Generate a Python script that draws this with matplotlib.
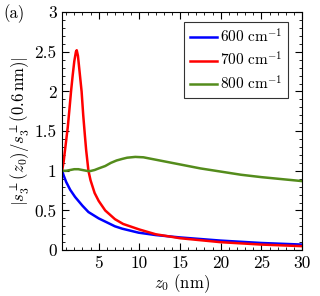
import matplotlib
matplotlib.use('Agg')
import matplotlib.pyplot as plt
from matplotlib.ticker import MultipleLocator

plt.rcParams['font.family'] = 'serif'
plt.rcParams['font.serif'] = ['cmr10']
plt.rcParams['mathtext.fontset'] = 'cm'
plt.rcParams['axes.unicode_minus'] = False

# data
z_600 = [0.5, 0.7, 1.0, 1.5, 2.1, 3.0, 3.74, 5.0, 5.8, 7.0, 7.9, 9.9, 12, 15, 20, 25, 30]
s_600 = [1.0, 0.94, 0.86, 0.76, 0.67, 0.56, 0.48, 0.40, 0.36, 0.30, 0.27, 0.22, 0.19, 0.16, 0.12, 0.09, 0.07]

z_700 = [0.5, 0.7, 0.86, 1.0, 1.2, 1.4, 1.6, 1.8, 2.0, 2.2, 2.3, 2.45, 2.6, 2.8, 2.9, 3.1, 3.3,
         3.46, 3.74, 4.0, 4.5, 5.0, 5.8, 7, 8, 10, 12, 15, 20, 25, 30]
s_700 = [1.0, 1.12, 1.26, 1.38, 1.55, 1.77, 2.0, 2.2, 2.38, 2.5, 2.52, 2.45, 2.3, 2.1, 2.0, 1.7, 1.45,
         1.26, 1.0, 0.88, 0.72, 0.62, 0.5, 0.39, 0.33, 0.26, 0.2, 0.15, 0.1, 0.07, 0.05]

z_800 = [0.5, 1, 1.5, 2, 2.5, 3, 3.5, 3.9, 4.5, 5, 5.8, 6.5, 7.2, 7.9, 8.5, 9.5, 10.5, 12, 13.5,
         15, 17.5, 20, 22.5, 25, 27.5, 30]
s_800 = [1.0, 1.0, 1.01, 1.02, 1.02, 1.01, 1.0, 0.995, 1.01, 1.03, 1.06, 1.1, 1.13, 1.15, 1.165,
         1.175, 1.17, 1.14, 1.11, 1.08, 1.03, 0.99, 0.95, 0.92, 0.895, 0.87]

fig = plt.figure(figsize=(3.2, 2.96), dpi=100)
ax = fig.add_axes([0.194, 0.155, 0.75, 0.804])

ax.plot(z_600, s_600, color='#0000ff', lw=1.8, label=r'$600\ \mathrm{cm}^{-1}$')
ax.plot(z_700, s_700, color='#ff0000', lw=1.8, label=r'$700\ \mathrm{cm}^{-1}$')
ax.plot(z_800, s_800, color='#548c1c', lw=1.8, label=r'$800\ \mathrm{cm}^{-1}$')

ax.set_xlim(0.5, 30)
ax.set_ylim(0, 3)
ax.xaxis.set_major_locator(MultipleLocator(5))
ax.xaxis.set_minor_locator(MultipleLocator(1))
ax.yaxis.set_major_locator(MultipleLocator(0.5))
ax.yaxis.set_minor_locator(MultipleLocator(0.1))
ax.set_yticks([0, 0.5, 1, 1.5, 2, 2.5, 3])
ax.set_yticklabels(['0', '0.5', '1', '1.5', '2', '2.5', '3'])
ax.tick_params(which='both', direction='in', top=True, right=True, labelsize=12.5)
ax.tick_params(which='major', length=5, pad=4)
ax.tick_params(which='minor', length=2.5)

ax.set_xlabel(r'$z_0\ (\mathrm{nm})$', fontsize=12, labelpad=1)
ax.set_ylabel(r'$|s_3^{\perp}(z_0)/s_3^{\perp}(0.6\,\mathrm{nm})|$', fontsize=12, labelpad=2)

leg = ax.legend(loc='upper right', fontsize=11, fancybox=False, edgecolor='black',
                handlelength=1.8, handletextpad=0.2, borderpad=0.35, labelspacing=0.35,
                bbox_to_anchor=(0.942, 0.958), borderaxespad=0)
leg.get_frame().set_linewidth(0.8)

fig.text(0.012, 0.985, '(a)', fontsize=12, va='top', ha='left')

fig.savefig('out.png', dpi=100)
